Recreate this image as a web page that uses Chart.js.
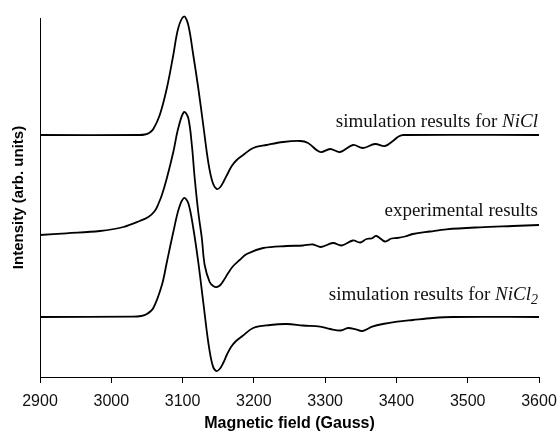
<!DOCTYPE html>
<html>
<head>
<meta charset="utf-8">
<script src="https://cdn.jsdelivr.net/npm/chart.js@4.4.1/dist/chart.umd.min.js"></script>
<style>
  html, body { margin: 0; padding: 0; background: #fff; }
  canvas { display: block; }
</style>
</head>
<body>
<canvas id="epr" width="557" height="433"></canvas>
<script>
// EPR spectra: field in Gauss, intensity in arbitrary units (curves are vertically offset)
const fieldNiCl = [2900, 3040, 3047, 3053, 3059, 3068, 3078, 3087, 3094, 3102, 3108, 3115, 3122, 3129, 3136, 3142, 3148, 3153, 3158, 3163, 3169, 3176, 3185, 3199, 3218, 3241, 3265, 3276, 3293, 3307, 3321, 3339, 3353, 3370, 3384, 3395, 3403, 3410, 3600];
const intensityNiCl = [242, 242, 242.5, 244, 248, 262, 289, 322, 349, 360.5, 352, 322, 289, 252, 215, 195, 188, 190, 196, 203, 211, 217, 222, 229, 232, 235, 236, 234, 225, 228, 225, 232, 229, 233, 231, 236, 240.5, 242, 242];

const fieldExp = [2900, 2937, 2984, 3017, 3040, 3052, 3061, 3066, 3071, 3078, 3087, 3094, 3102, 3108, 3113, 3117, 3122, 3127, 3131, 3138, 3143, 3148, 3153, 3158, 3164, 3171, 3180, 3190, 3213, 3246, 3269, 3283, 3294, 3311, 3323, 3339, 3349, 3358, 3365, 3372, 3384, 3393, 3401, 3412, 3423, 3447, 3470, 3517, 3563, 3600];
const intensityExp = [142, 143.7, 146, 150, 156, 160, 166, 173, 182, 199, 225, 249, 265, 259, 232, 199, 165, 139, 112, 95, 91, 90, 92, 97, 104, 111, 117, 123, 129, 131, 131.5, 132.5, 130, 134, 131.5, 136.5, 134.5, 138, 138.5, 141, 135.5, 138.5, 139, 140.5, 143, 145.5, 147.7, 149.7, 151, 152];

const fieldNiCl2 = [2900, 3030, 3042, 3050, 3059, 3071, 3078, 3087, 3095, 3102, 3108, 3115, 3122, 3129, 3136, 3142, 3147, 3152, 3157, 3162, 3168, 3175, 3184, 3199, 3223, 3246, 3269, 3293, 3307, 3322, 3332, 3343, 3352, 3366, 3381, 3401, 3423, 3451, 3479, 3600];
const intensityNiCl2 = [60, 60.3, 61, 63, 69, 92, 115, 145, 169, 179, 174, 149, 115, 75, 35, 12, 6, 8, 14, 22, 30, 36, 41, 49, 52, 53, 51.5, 50.3, 48, 46.5, 49, 47.7, 46, 50.3, 53, 55.3, 57, 59, 60, 60];

const xTickLabels = ['2900', '3000', '3100', '3200', '3300', '3400', '3500', '3600'];

// Curve captions: text parts, drawn right-aligned above the end of each curve
const captionNiCl = [{ t: 'simulation results for ' }, { t: 'NiCl', it: true }];
const captionExp = [{ t: 'experimental results' }];
const captionNiCl2 = [{ t: 'simulation results for ' }, { t: 'NiCl', it: true }, { t: '2', it: true, sub: true }];

const toPoints = (xs, ys) => xs.map((x, i) => ({ x: x, y: ys[i] }));

const curveStyle = {
  borderColor: '#000',
  borderWidth: 1.8,
  pointRadius: 0,
  fill: false,
  tension: 0.35,
  clip: false
};

const captionPlugin = {
  id: 'captions',
  afterDatasetsDraw(chart) {
    const ctx = chart.ctx;
    const xs = chart.scales.x, ys = chart.scales.y;
    const right = xs.getPixelForValue(3600) - 1;
    const items = [
      { parts: captionNiCl, base: intensityNiCl[intensityNiCl.length - 1], lift: 8.5 },
      { parts: captionExp, base: intensityExp[intensityExp.length - 1], lift: 9.5 },
      { parts: captionNiCl2, base: intensityNiCl2[intensityNiCl2.length - 1], lift: 17 }
    ];
    const fontOf = p => (p.it ? 'italic ' : '') + (p.sub ? '14px' : '19px') + ' "Liberation Serif", "Times New Roman", serif';
    ctx.save();
    ctx.fillStyle = '#111';
    ctx.textBaseline = 'alphabetic';
    ctx.textAlign = 'left';
    items.forEach(item => {
      let total = 0;
      item.parts.forEach(p => { ctx.font = fontOf(p); total += ctx.measureText(p.t).width; });
      let x = right - total;
      const y = ys.getPixelForValue(item.base) - item.lift;
      item.parts.forEach(p => {
        ctx.font = fontOf(p);
        ctx.fillText(p.t, x, y + (p.sub ? 4 : 0));
        x += ctx.measureText(p.t).width;
      });
    });
    ctx.restore();
  }
};

new Chart(document.getElementById('epr'), {
  type: 'line',
  data: {
    datasets: [
      Object.assign({ label: 'NiCl', data: toPoints(fieldNiCl, intensityNiCl) }, curveStyle),
      Object.assign({ label: 'experimental', data: toPoints(fieldExp, intensityExp) }, curveStyle),
      Object.assign({ label: 'NiCl2', data: toPoints(fieldNiCl2, intensityNiCl2) }, curveStyle)
    ]
  },
  options: {
    responsive: false,
    devicePixelRatio: 1,
    animation: false,
    layout: { padding: { top: 18, right: 18, left: 0, bottom: 0 } },
    plugins: { legend: { display: false }, tooltip: { enabled: false } },
    scales: {
      x: {
        type: 'linear',
        min: 2900,
        max: 3600,
        afterFit(scale) {
          scale.height = 56;
          scale.paddingLeft = 0;
          scale.paddingRight = 0;
        },
        ticks: {
          stepSize: 100,
          padding: 9,
          color: '#111',
          font: { family: 'Liberation Sans, Arial, sans-serif', size: 16 },
          callback: (v, i) => xTickLabels[i]
        },
        grid: { drawOnChartArea: false, drawTicks: true, tickLength: 6, color: '#000', lineWidth: 1 },
        border: { display: true, color: '#000', width: 1 },
        title: {
          display: true,
          text: 'Magnetic field (Gauss)',
          color: '#000',
          padding: { top: 0, bottom: 0 },
          font: { family: 'Liberation Sans, Arial, sans-serif', size: 16, weight: 'bold' }
        }
      },
      y: {
        type: 'linear',
        min: 0,
        max: 359,
        afterFit(scale) { scale.width = 40; },
        ticks: { display: false },
        grid: { display: false },
        border: { display: true, color: '#000', width: 1 },
        title: {
          display: true,
          text: 'Intensity (arb. units)',
          color: '#000',
          padding: { top: 10, bottom: 0 },
          font: { family: 'Liberation Sans, Arial, sans-serif', size: 15, weight: 'bold' }
        }
      }
    }
  },
  plugins: [captionPlugin]
});
</script>
</body>
</html>
